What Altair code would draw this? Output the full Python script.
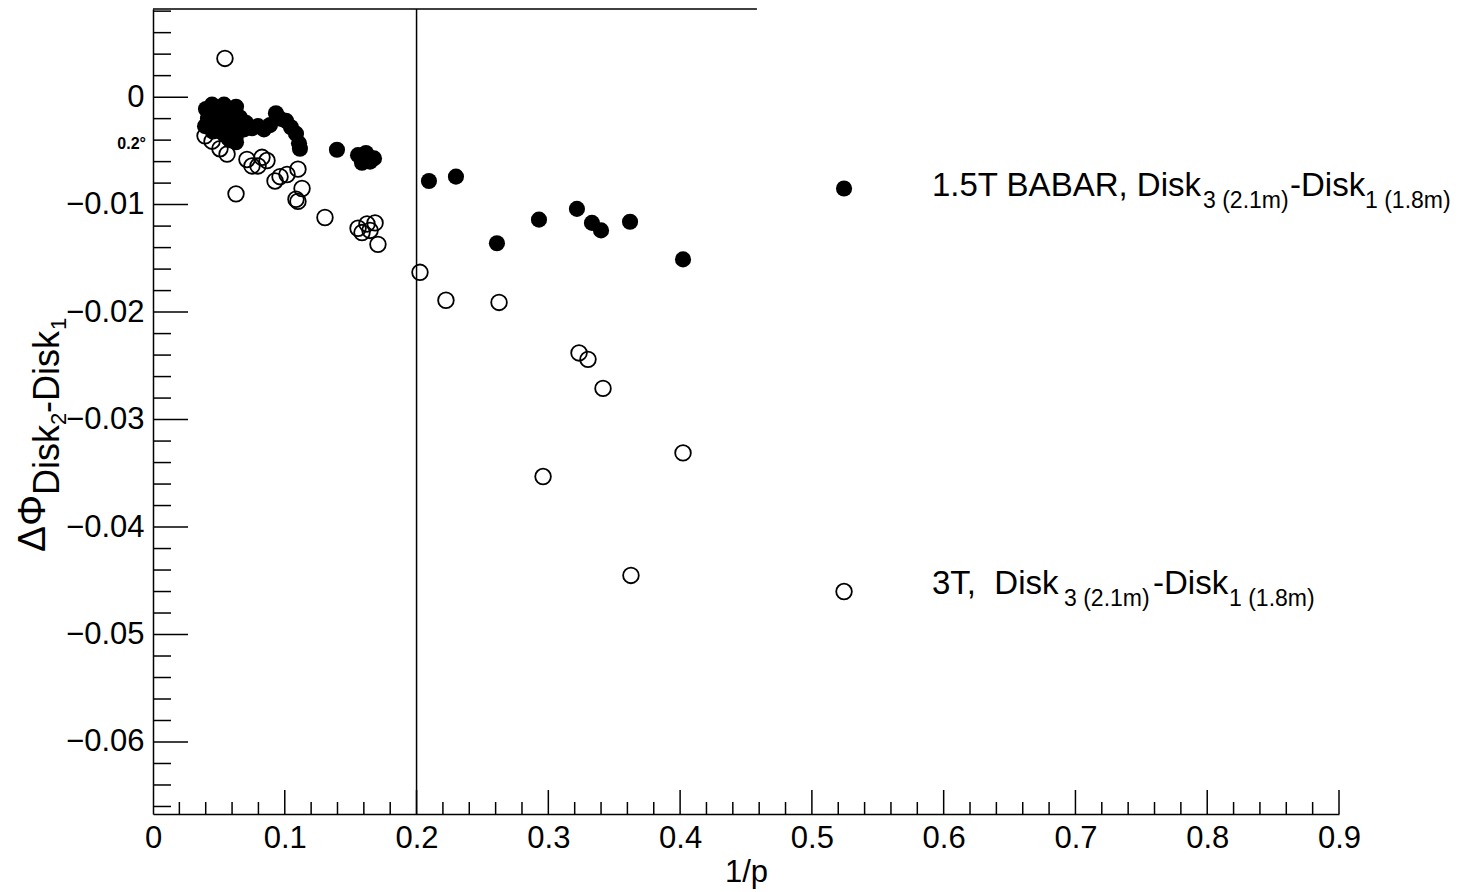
import altair as alt
import pandas as pd

FONT = "Liberation Sans"

# 1.5T BABAR (filled markers)
x_babar = [0.0402, 0.0448, 0.0493, 0.0539, 0.0584, 0.0630, 0.0417, 0.0478, 0.0539, 0.0599,
           0.0660, 0.0706, 0.0751, 0.0797, 0.0842, 0.0888, 0.0933, 0.0964, 0.1009, 0.1047,
           0.1085, 0.1108, 0.1115, 0.0524, 0.0630, 0.0395, 0.0455, 0.0691, 0.0584, 0.0630,
           0.0570, 0.1396, 0.1556, 0.1616, 0.1677, 0.1586, 0.1647, 0.2094, 0.2299, 0.2610,
           0.2929, 0.3217, 0.3331, 0.3400, 0.3620, 0.4022]
y_babar = [-0.0011, -0.0007, -0.0011, -0.0007, -0.0013, -0.0009, -0.0020, -0.0024, -0.0020, -0.0026,
           -0.0019, -0.0024, -0.0029, -0.0027, -0.0030, -0.0026, -0.0015, -0.0020, -0.0022, -0.0028,
           -0.0034, -0.0043, -0.0048, -0.0033, -0.0036, -0.0027, -0.0032, -0.0030, -0.0040, -0.0042,
           -0.0038, -0.0049, -0.0054, -0.0052, -0.0057, -0.0061, -0.0060, -0.0078, -0.0074, -0.0136,
           -0.0114, -0.0104, -0.0117, -0.0124, -0.0116, -0.0151]

# 3T (open markers)
x_3t = [0.0546, 0.0395, 0.0448, 0.0508, 0.0562, 0.0630, 0.0713, 0.0751, 0.0797, 0.0827,
        0.0865, 0.0926, 0.0964, 0.1017, 0.1100, 0.1131, 0.1100, 0.1085, 0.1305, 0.1556,
        0.1624, 0.1685, 0.1586, 0.1647, 0.1707, 0.2026, 0.2223, 0.2626, 0.3233, 0.3301,
        0.3415, 0.4022, 0.2960, 0.3627]
y_3t = [0.0036, -0.0036, -0.0041, -0.0048, -0.0053, -0.0090, -0.0058, -0.0064, -0.0064, -0.0056,
        -0.0059, -0.0078, -0.0074, -0.0072, -0.0067, -0.0085, -0.0097, -0.0095, -0.0112, -0.0122,
        -0.0118, -0.0117, -0.0126, -0.0124, -0.0137, -0.0163, -0.0189, -0.0191, -0.0238, -0.0244,
        -0.0271, -0.0331, -0.0353, -0.0445]

# legend marker positions
legend_x = [0.5244, 0.5244]
legend_y = [-0.0085, -0.0460]

# reference lines
vline_x = [0.2]
hline_x = [0.0, 0.4583]

# axis ticks / labels
x_labels = [0, 0.1, 0.2, 0.3, 0.4, 0.5, 0.6, 0.7, 0.8, 0.9]
y_labels = [0, -0.01, -0.02, -0.03, -0.04, -0.05, -0.06]
x_minor = [round(i * 0.02, 3) for i in range(1, 46) if i % 5 != 0]
y_minor = [round(-0.066 + i * 0.002, 4) for i in range(0, 38) if (i + 2) % 5 != 0]
y_major_t = [0, -0.01, -0.02, -0.03, -0.04, -0.05, -0.06]
x_major_t = [0.1, 0.2, 0.3, 0.4, 0.5, 0.6, 0.7, 0.8, 0.9]

W, H = 1186, 805
FILL_SIZE = 260
OPEN_SIZE = 245

xs = alt.Scale(domain=[0, 0.9], nice=False, zero=False)
ys = alt.Scale(domain=[-0.0667, 0.0082], nice=False, zero=False)

x_axis = alt.Axis(values=x_labels, format="~g", labelFont=FONT, labelFontSize=31,
                  labelColor="black", labelPadding=9, ticks=False, grid=False,
                  domainColor="black", domainWidth=1.5, title="1/p", titleFont=FONT,
                  titleFontSize=31, titleFontWeight="normal", titleColor="black",
                  titlePadding=4, labelFlush=False)
y_axis = alt.Axis(values=y_labels, format="~g", labelFont=FONT, labelFontSize=31,
                  labelColor="black", labelPadding=9, ticks=False, grid=False,
                  domainColor="black", domainWidth=1.5, title=None, labelFlush=False)

X = alt.X("x:Q", scale=xs, axis=x_axis)
Y = alt.Y("y:Q", scale=ys, axis=y_axis)

df_b = pd.DataFrame({"x": x_babar, "y": y_babar})
df_t = pd.DataFrame({"x": x_3t, "y": y_3t})

open_pts = alt.Chart(df_t).mark_point(shape="circle", filled=False, size=OPEN_SIZE,
                                      strokeWidth=1.8, color="black", opacity=1).encode(x=X, y=Y)
fill_pts = alt.Chart(df_b).mark_circle(size=FILL_SIZE, color="black", opacity=1).encode(x=X, y=Y)

leg_fill = alt.Chart(pd.DataFrame({"x": legend_x[:1], "y": legend_y[:1]})).mark_circle(
    size=FILL_SIZE, color="black", opacity=1).encode(x=X, y=Y)
leg_open = alt.Chart(pd.DataFrame({"x": legend_x[1:], "y": legend_y[1:]})).mark_point(
    shape="circle", filled=False, size=OPEN_SIZE, strokeWidth=1.8, color="black", opacity=1).encode(x=X, y=Y)

vline = alt.Chart(pd.DataFrame({"x": vline_x})).mark_rule(color="black", strokeWidth=1.5).encode(x=X)
hline = alt.Chart(pd.DataFrame({"x": hline_x[:1], "x2": hline_x[1:]})).mark_rule(
    color="black", strokeWidth=1.5).encode(x=X, x2="x2:Q", y=alt.value(0))

xt_major = alt.Chart(pd.DataFrame({"x": x_major_t})).mark_rule(color="black", strokeWidth=1.5).encode(
    x=X, y=alt.value(H), y2=alt.value(H - 24))
xt_minor = alt.Chart(pd.DataFrame({"x": x_minor})).mark_rule(color="black", strokeWidth=1.5).encode(
    x=X, y=alt.value(H), y2=alt.value(H - 12))
yt_major = alt.Chart(pd.DataFrame({"y": y_major_t})).mark_rule(color="black", strokeWidth=1.5).encode(
    y=Y, x=alt.value(0), x2=alt.value(35))
yt_minor = alt.Chart(pd.DataFrame({"y": y_minor})).mark_rule(color="black", strokeWidth=1.5).encode(
    y=Y, x=alt.value(0), x2=alt.value(18))

dummy = pd.DataFrame({"a": [0]})


def label(txt, px, py, size, angle=0, weight="normal", align="left"):
    return alt.Chart(dummy).mark_text(text=txt, fontSize=size, font=FONT, angle=angle,
                                      fontWeight=weight, align=align, baseline="alphabetic",
                                      color="black").encode(x=alt.value(px), y=alt.value(py))


texts = [
    # legend line 1
    label("1.5T BABAR, Disk", 779, 187, 33),
    label("3 (2.1m)", 1050, 199, 23),
    label("-Disk", 1137, 187, 33),
    label("1 (1.8m)", 1212, 199, 23),
    # legend line 2
    label("3T,\u00a0\u00a0Disk", 779, 585, 33),
    label("3 (2.1m)", 911, 597, 23),
    label("-Disk", 1000, 585, 33),
    label("1 (1.8m)", 1076, 597, 23),
    # small annotation
    label("0.2°", -7, 140, 16, weight="bold", align="right"),
    # y title (rotated)
    label("ΔΦ", -108, 543, 39, angle=270),
    label("Disk", -94, 486, 36, angle=270),
    label("2", -87, 416, 22, angle=270),
    label("-Disk", -94, 404, 36, angle=270),
    label("1", -87, 321, 22, angle=270),
]

chart = alt.layer(open_pts, fill_pts, leg_fill, leg_open, vline, hline,
                  xt_major, xt_minor, yt_major, yt_minor, *texts).properties(
    width=W, height=H,
    autosize=alt.AutoSizeParams(type="none"),
    padding={"left": 145, "top": 1, "right": 118, "bottom": 78},
).configure_view(stroke=None)

chart.save("out.html", embed_options={"renderer": "svg", "actions": False})
